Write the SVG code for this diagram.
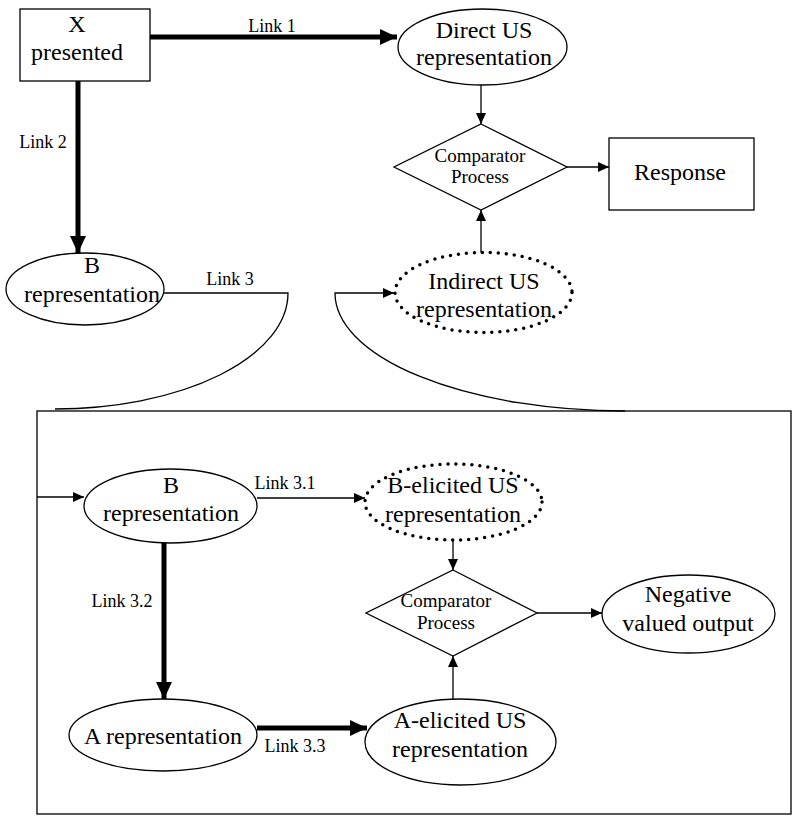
<svg xmlns="http://www.w3.org/2000/svg" width="800" height="825" viewBox="0 0 800 825">
<style>
text{font-family:"Liberation Serif","Times New Roman",serif;fill:#000;text-anchor:middle}
.n{font-size:24px}
.c{font-size:19px}
.l{font-size:18px}
.s{fill:#fff;stroke:#000;stroke-width:1.3}
.d{fill:#fff;stroke:#000;stroke-width:3.5;stroke-dasharray:0 8;stroke-linecap:round}
.thin{stroke:#000;stroke-width:1.3;fill:none}
.thick{stroke:#000;stroke-width:5;fill:none}
</style>
<defs>
<marker id="ah" markerUnits="userSpaceOnUse" markerWidth="12" markerHeight="10" refX="11" refY="5" orient="auto"><path d="M0,0 L11,5 L0,10 Z" fill="#000"/></marker>
<marker id="ahT" markerUnits="userSpaceOnUse" markerWidth="18" markerHeight="16" refX="17" refY="8" orient="auto"><path d="M0,0 L17,8 L0,16 Z" fill="#000"/></marker>
</defs>
<rect x="37" y="411" width="754" height="403" fill="none" stroke="#000" stroke-width="1.3"/>
<g id="connectors">
<line class="thick" x1="150" y1="37" x2="397" y2="37" marker-end="url(#ahT)"/>
<text class="l" x="272" y="32">Link 1</text>
<line class="thick" x1="78" y1="81" x2="78" y2="253" marker-end="url(#ahT)"/>
<text class="l" x="43" y="148">Link 2</text>
<path class="thin" d="M164,293 L288,293 A233,116 0 0 1 55,409"/>
<text class="l" x="230" y="285">Link 3</text>
<path class="thin" d="M625,411 A290,118 0 0 1 335,293 L394,293" marker-end="url(#ah)"/>
<line class="thin" x1="481" y1="82" x2="481" y2="124" marker-end="url(#ah)"/>
<line class="thin" x1="567" y1="167" x2="609" y2="167" marker-end="url(#ah)"/>
<line class="thin" x1="481" y1="253" x2="481" y2="210" marker-end="url(#ah)"/>
<line class="thin" x1="37" y1="497" x2="84" y2="497" marker-end="url(#ah)"/>
<line class="thin" x1="257" y1="498" x2="365" y2="498" marker-end="url(#ah)"/>
<text class="l" x="285" y="489">Link 3.1</text>
<line class="thin" x1="453" y1="540" x2="453" y2="570" marker-end="url(#ah)"/>
<line class="thin" x1="537" y1="613" x2="602" y2="613" marker-end="url(#ah)"/>
<line class="thin" x1="453" y1="699" x2="453" y2="656" marker-end="url(#ah)"/>
<line class="thick" x1="164" y1="543" x2="164" y2="699" marker-end="url(#ahT)"/>
<text class="l" x="122" y="607">Link 3.2</text>
<line class="thick" x1="257" y1="728" x2="367" y2="728" marker-end="url(#ahT)"/>
<text class="l" x="295" y="752">Link 3.3</text>
</g>
<g id="x-presented">
<rect class="s" x="20" y="9" width="130" height="72"/>
<text class="n" x="77" y="32">X</text>
<text class="n" x="77" y="60">presented</text>
</g>
<g id="b-representation-top">
<ellipse class="s" cx="85" cy="289" rx="79" ry="36"/>
<text class="n" x="92" y="273">B</text>
<text class="n" x="92" y="302">representation</text>
</g>
<g id="direct-us">
<ellipse class="s" cx="482.5" cy="47" rx="84.5" ry="38"/>
<text class="n" x="484" y="38">Direct US</text>
<text class="n" x="484" y="65">representation</text>
</g>
<g id="comparator-top">
<polygon class="s" points="481,124 567,167 481,210 394,167"/>
<text class="c" x="480" y="162">Comparator</text>
<text class="c" x="480" y="183">Process</text>
</g>
<g id="response">
<rect class="s" x="609" y="138" width="145" height="72"/>
<text class="n" x="680" y="180">Response</text>
</g>
<g id="indirect-us">
<ellipse class="d" cx="483.5" cy="292.5" rx="88.5" ry="40"/>
<text class="n" x="484" y="289">Indirect US</text>
<text class="n" x="484" y="317">representation</text>
</g>
<g id="b-representation">
<ellipse class="s" cx="170.5" cy="506" rx="86.5" ry="37"/>
<text class="n" x="171" y="493">B</text>
<text class="n" x="171" y="521">representation</text>
</g>
<g id="b-elicited-us">
<ellipse class="d" cx="453.5" cy="502" rx="88.5" ry="38"/>
<text class="n" x="453" y="493">B-elicited US</text>
<text class="n" x="453" y="522">representation</text>
</g>
<g id="comparator-bottom">
<polygon class="s" points="453,570 537,613 453,656 366,613"/>
<text class="c" x="446" y="607">Comparator</text>
<text class="c" x="446" y="629">Process</text>
</g>
<g id="negative-output">
<ellipse class="s" cx="688.5" cy="614" rx="86.5" ry="39"/>
<text class="n" x="688" y="602">Negative</text>
<text class="n" x="688" y="631">valued output</text>
</g>
<g id="a-representation">
<ellipse class="s" cx="163" cy="735" rx="94" ry="36"/>
<text class="n" x="163" y="744">A representation</text>
</g>
<g id="a-elicited-us">
<ellipse class="s" cx="460.5" cy="742" rx="95.5" ry="43"/>
<text class="n" x="460" y="728">A-elicited US</text>
<text class="n" x="460" y="757">representation</text>
</g>
</svg>
